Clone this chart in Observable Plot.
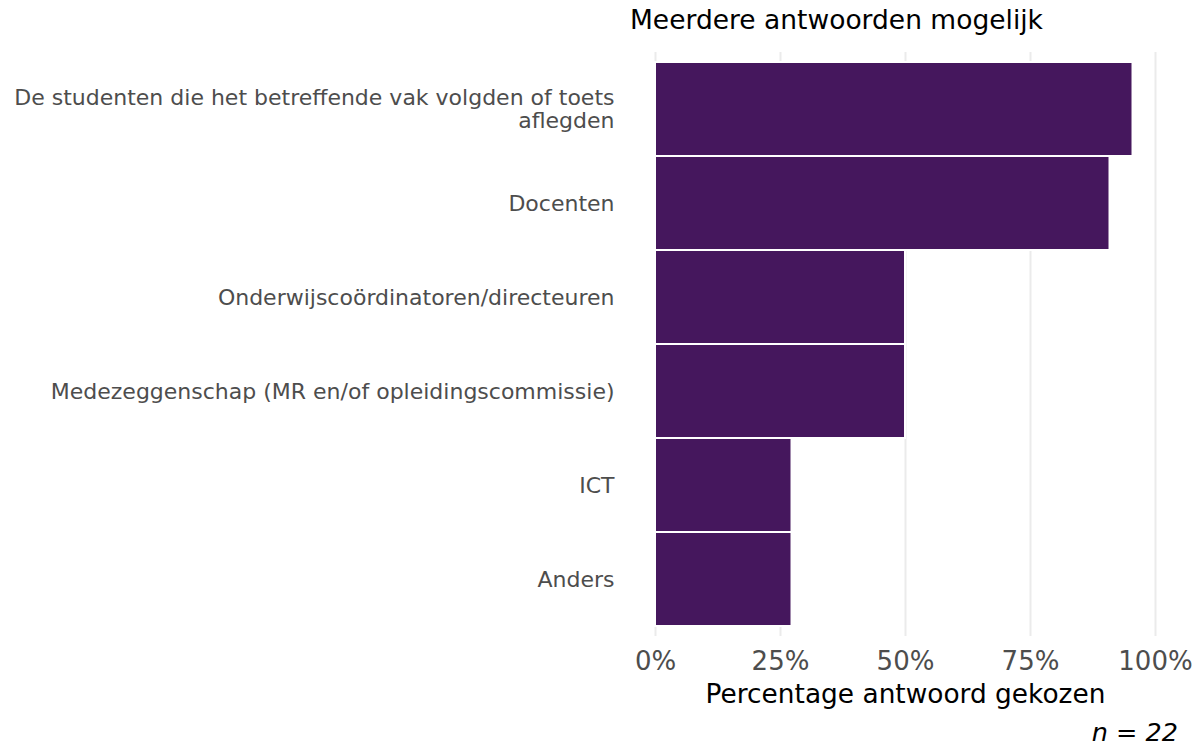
<!DOCTYPE html>
<html>
<head>
<meta charset="utf-8">
<script src="https://cdn.jsdelivr.net/npm/d3@7"></script>
<script src="https://cdn.jsdelivr.net/npm/@observablehq/plot@0.6"></script>
<style>
  html, body { margin: 0; padding: 0; background: #fff; }
  body { width: 1204px; height: 746px; position: relative; overflow: hidden; font-family: "DejaVu Sans", sans-serif; }
  #title { position: absolute; left: 630px; top: 0px; font-size: 26.5px; line-height: 26.5px; padding-top: 7px; color: #000; white-space: nowrap; }
  #chart { position: absolute; left: 0; top: 46px; }
  #caption { position: absolute; right: 26px; top: 719px; font-size: 25.5px; line-height: 26px; font-style: italic; color: #000; white-space: nowrap; }
</style>
</head>
<body>
<div id="title">Meerdere antwoorden mogelijk</div>
<div id="chart"></div>
<div id="caption">n = 22</div>
<script>
const categories = [
  "De studenten die het betreffende vak volgden of toets\naflegden",
  "Docenten",
  "Onderwijscoördinatoren/directeuren",
  "Medezeggenschap (MR en/of opleidingscommissie)",
  "ICT",
  "Anders"
];
const percentages = [95.5, 90.9, 50.0, 50.0, 27.3, 27.3];
const xTicks = [0, 25, 50, 75, 100];
const xTickLabels = ["0%", "25%", "50%", "75%", "100%"];
const xTitle = "Percentage antwoord gekozen";

const data = categories.map((c, i) => ({category: c, value: percentages[i]}));

const chart = Plot.plot({
  width: 1204,
  height: 680,
  marginLeft: 655,
  marginRight: 49,
  marginTop: 6,
  marginBottom: 90,
  style: {fontFamily: "DejaVu Sans, sans-serif", background: "#fff"},
  x: {domain: [0, 100]},
  y: {domain: categories, padding: 0, paddingOuter: 0.1},
  marks: [
    Plot.gridX(xTicks, {stroke: "#ebebeb", strokeOpacity: 1, strokeWidth: 2}),
    Plot.barX(data, {y: "category", x: "value", fill: "#45175d", stroke: "#fff", strokeWidth: 2}),
    Plot.axisX({
      ticks: xTicks,
      tickFormat: (d) => xTickLabels[xTicks.indexOf(d)],
      tickSize: 0,
      tickPadding: 15,
      fontSize: 26,
      fill: "#4d4d4d",
      label: null
    }),
    Plot.axisY({
      tickSize: 0,
      tickPadding: 41,
      fontSize: 22,
      lineHeight: 1.05,
      fill: "#4d4d4d",
      label: null
    }),
    Plot.text([xTitle], {
      frameAnchor: "bottom",
      text: (d) => d,
      dy: 66,
      fontSize: 26.4,
      fill: "#000",
      lineAnchor: "bottom"
    })
  ]
});
document.getElementById("chart").appendChild(chart);
</script>
</body>
</html>
